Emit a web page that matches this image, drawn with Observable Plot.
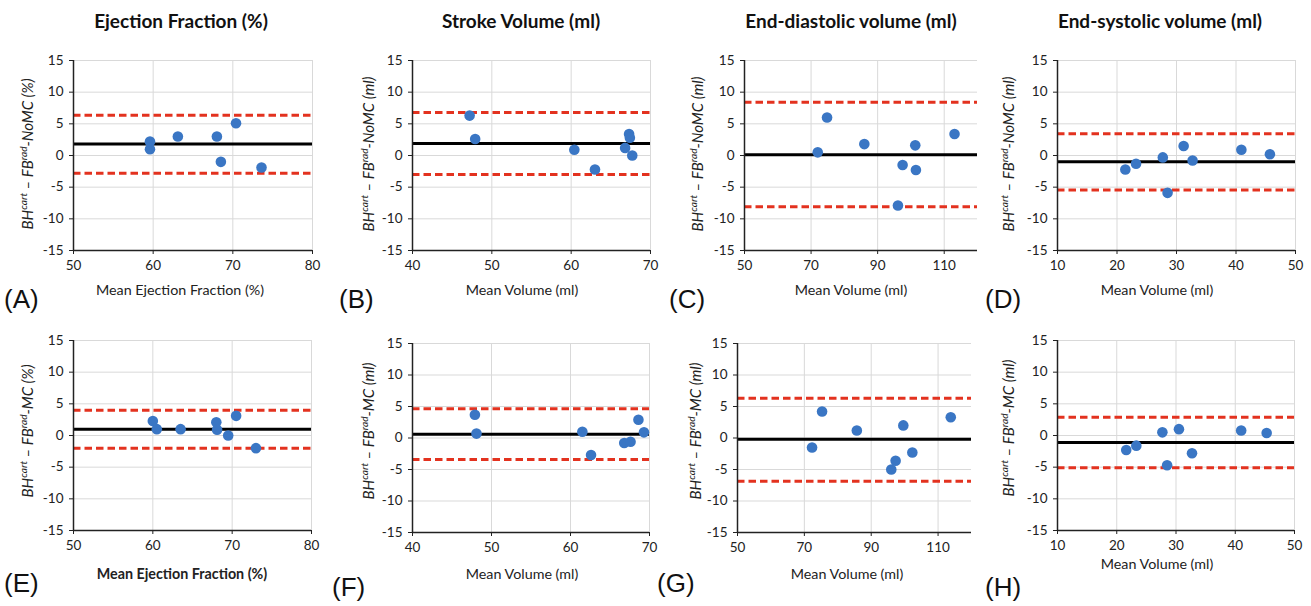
<!DOCTYPE html>
<html><head><meta charset="utf-8">
<script src="https://cdn.jsdelivr.net/npm/d3@7"></script>
<script src="https://cdn.jsdelivr.net/npm/@observablehq/plot@0.6"></script>
<style>
body{margin:0;background:#fff;}
#root{position:relative;width:1311px;height:606px;font-family:Lato,"Open Sans",sans-serif;overflow:hidden;color:#222}
.title{position:absolute;font-weight:bold;font-size:19px;transform:translate(-50%,-50%);white-space:nowrap;color:#111}
.xl{position:absolute;font-size:14.3px;transform:translate(-50%,-50%);white-space:nowrap}
.yl{position:absolute;font-size:15px;font-style:italic;transform:translate(-50%,-50%) rotate(-90deg);white-space:nowrap}
.yl sup{font-size:0.68em;line-height:0}
.pl{position:absolute;font-family:"Liberation Sans",Arial,sans-serif;font-size:26px;transform:translateY(-50%);color:#111}
.panel{position:absolute}
</style></head><body><div id="root"></div>
<script>
// ---- data ----
const columnTitles = ["Ejection Fraction (%)", "Stroke Volume (ml)", "End-diastolic volume (ml)", "End-systolic volume (ml)"];
const panelLetters = ["A","B","C","D","E","F","G","H"];
const xLabels = ["Mean Ejection Fraction (%)","Mean Volume (ml)","Mean Volume (ml)","Mean Volume (ml)",
                 "Mean Ejection Fraction (%)","Mean Volume (ml)","Mean Volume (ml)","Mean Volume (ml)"];
const methodTags = ["NoMC","NoMC","NoMC","NoMC","MC","MC","MC","MC"];
const unitTags = ["%","ml","ml","ml","%","ml","ml","ml"];

const yTicks = [-15,-10,-5,0,5,10,15];
const efTicks = [50,60,70,80];
const svTicks = [40,50,60,70];
const edvTicks = [50,70,90,110];
const esvTicks = [10,20,30,40,50];
const efDomain = [50,80], svDomain = [40,70], edvDomain = [50,120], esvDomain = [10,50];

const efNoMC_mean  = [59.6, 59.6, 63.1, 68.0, 70.4, 68.5, 73.6];
const efNoMC_diff  = [2.2, 1.0, 3.0, 3.0, 5.1, -1.0, -1.9];
const svNoMC_mean  = [47.2, 47.9, 60.4, 63.0, 67.3, 67.4, 66.8, 67.7];
const svNoMC_diff  = [6.3, 2.6, 0.9, -2.2, 3.4, 2.8, 1.2, 0.0];
const edvNoMC_mean = [72.0, 74.8, 86.0, 101.3, 97.5, 101.5, 96.1, 113.1];
const edvNoMC_diff = [0.5, 6.0, 1.8, 1.6, -1.5, -2.3, -7.9, 3.4];
const esvNoMC_mean = [21.4, 23.2, 27.7, 28.5, 31.2, 32.7, 40.9, 45.7];
const esvNoMC_diff = [-2.2, -1.3, -0.3, -5.9, 1.5, -0.8, 0.9, 0.2];
const efMC_mean    = [60.0, 60.5, 63.5, 68.0, 68.1, 69.5, 70.5, 73.0];
const efMC_diff    = [2.3, 1.0, 1.0, 2.1, 0.9, 0.0, 3.1, -2.0];
const svMC_mean    = [47.9, 48.1, 61.5, 62.6, 66.8, 67.6, 68.6, 69.3];
const svMC_diff    = [3.7, 0.7, 1.0, -2.7, -0.8, -0.6, 2.9, 0.9];
const edvMC_mean   = [72.3, 75.3, 85.7, 99.6, 97.3, 96.0, 102.3, 113.8];
const edvMC_diff   = [-1.5, 4.2, 1.2, 2.0, -3.6, -5.0, -2.3, 3.3];
const esvMC_mean   = [21.6, 23.3, 27.7, 28.5, 30.5, 32.7, 41.0, 45.3];
const esvMC_diff   = [-2.3, -1.6, 0.5, -4.7, 1.0, -2.8, 0.8, 0.4];

const bias     = [1.8, 1.9, 0.1, -1.0, 1.0, 0.6, -0.2, -1.1];
const upperLoA = [6.35, 6.8, 8.4, 3.45, 4.0, 4.65, 6.3, 2.9];
const lowerLoA = [-2.8, -3.0, -8.1, -5.45, -2.0, -3.4, -6.85, -5.1];

// ---- layout (pixel boxes of plot areas: left, right, top, bottom) ----
const boxes = [[73,312,60,250],[412,650,60,250],[744,977,60,250],[1057,1295,60,250],
               [73,311,340,530],[412,649,343,532],[737,971,343,532],[1057,1294,340,530]];
const titlePos = [[181,20],[521,20],[851,20],[1160,20]];
const xLabelPos = [[180,289],[522,289],[851,289],[1157,289],[182,573],[522,573],[847,573],[1157,563]];
const yLabelPos = [[27,154],[368,154],[697,154],[1008,154],[27,431],[368,431],[695,431],[1008,428]];
const letterPos = [[4,299],[339,299],[669,299],[985,299],[4,583],[332,587],[657,583],[985,587]];

const means = [efNoMC_mean, svNoMC_mean, edvNoMC_mean, esvNoMC_mean, efMC_mean, svMC_mean, edvMC_mean, esvMC_mean];
const diffs = [efNoMC_diff, svNoMC_diff, edvNoMC_diff, esvNoMC_diff, efMC_diff, svMC_diff, edvMC_diff, esvMC_diff];
const tickSets = [efTicks, svTicks, edvTicks, esvTicks];
const domains = [efDomain, svDomain, edvDomain, esvDomain];

const root = document.getElementById("root");
function addDiv(cls, html, x, y){
  const d = document.createElement("div");
  d.className = cls; d.innerHTML = html;
  d.style.left = x + "px"; d.style.top = y + "px";
  root.appendChild(d); return d;
}

columnTitles.forEach((t,i) => addDiv("title", t, titlePos[i][0], titlePos[i][1]));

for (let i = 0; i < 8; i++) {
  const col = i % 4;
  const [L,R,T,B] = boxes[i];
  const mL = 36, mR = 6, mT = 6, mB = 28;
  const ticks = tickSets[col], domain = domains[col];
  const data = means[i].map((x,k) => ({x, y: diffs[i][k]}));
  const svg = Plot.plot({
    width: R - L + mL + mR, height: B - T + mT + mB,
    marginLeft: mL, marginRight: mR, marginTop: mT, marginBottom: mB,
    x: {domain, ticks, tickFormat: d => String(d)},
    y: {domain: [-15, 15], ticks: yTicks, tickFormat: d => String(d)},
    style: {fontFamily: "Lato, 'Open Sans', sans-serif", fontSize: "13.5px", color: "#222", background: "transparent", overflow: "visible"},
    marks: [
      Plot.gridX(ticks, {stroke: "#d9d9d9", strokeOpacity: 1, strokeWidth: 1}),
      Plot.gridY(yTicks, {stroke: "#d9d9d9", strokeOpacity: 1, strokeWidth: 1}),
      Plot.ruleY([bias[i]], {stroke: "#000", strokeWidth: 3}),
      Plot.ruleY([upperLoA[i], lowerLoA[i]], {stroke: "#e3321f", strokeWidth: 3, strokeDasharray: "7.5,4"}),
      Plot.dot(data, {x: "x", y: "y", r: 5.3, fill: "#3a76c4"}),
      Plot.axisY(yTicks, {tickSize: 4, tickPadding: 6, label: null, tickFormat: d => String(d)}),
      Plot.axisX(ticks, {tickSize: 4, tickPadding: 6, label: null, tickFormat: d => String(d)}),
      Plot.ruleX([domain[0]], {stroke: "#222", strokeWidth: 1.5}),
      Plot.ruleY([-15], {stroke: "#222", strokeWidth: 1.5})
    ]
  });
  const wrap = document.createElement("div");
  wrap.className = "panel";
  wrap.style.left = (L - mL) + "px"; wrap.style.top = (T - mT) + "px";
  wrap.appendChild(svg);
  root.appendChild(wrap);

  const xl = addDiv("xl", xLabels[i], xLabelPos[i][0], xLabelPos[i][1]);
  if (i === 4) xl.style.fontWeight = "bold";
  addDiv("yl", "BH<sup>cart</sup> – FB<sup>rad</sup>-" + methodTags[i] + " (" + unitTags[i] + ")", yLabelPos[i][0], yLabelPos[i][1]);
  addDiv("pl", "(" + panelLetters[i] + ")", letterPos[i][0], letterPos[i][1]);
}
</script>
</body></html>
